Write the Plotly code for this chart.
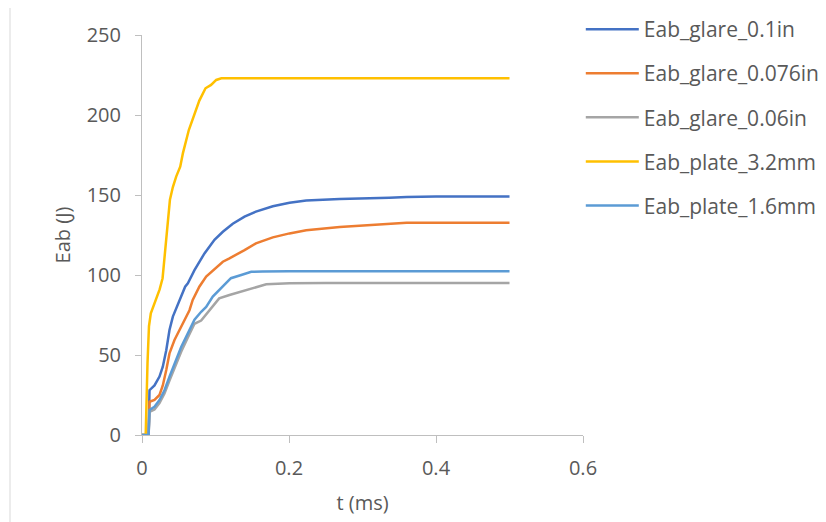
import plotly.graph_objects as go

# ---- data ----
t_glare_01 = [0, 0.009, 0.0102, 0.017, 0.0238, 0.0283, 0.033, 0.0374, 0.042, 0.051, 0.0587, 0.0624,
              0.0714, 0.085, 0.0986, 0.11, 0.1235, 0.1395, 0.155, 0.178, 0.2007, 0.2234, 0.269,
              0.3367, 0.36, 0.4, 0.5]
e_glare_01 = [0, 0, 28, 31, 36.5, 42.7, 53, 65.6, 74, 84.4, 92.7, 94.8,
              103, 113.5, 122, 127, 132, 136.5, 139.6, 143, 145.2, 146.5, 147.5,
              148.3, 148.8, 149, 149]

t_glare_0076 = [0, 0.009, 0.0102, 0.017, 0.0238, 0.0283, 0.033, 0.0374, 0.0442, 0.051, 0.0578, 0.0646,
                0.069, 0.078, 0.0873, 0.101, 0.11, 0.119, 0.128, 0.1395, 0.155, 0.178, 0.2007,
                0.2234, 0.269, 0.3367, 0.36, 0.5]
e_glare_0076 = [0, 0, 20.8, 21.9, 25, 31, 40.6, 51, 59.4, 65.6, 72, 78,
                84.4, 92.7, 99, 105, 108.3, 110.4, 112.5, 115.6, 119.8, 123.5, 126,
                128, 130, 132, 132.7, 132.7]

t_glare_006 = [0, 0.009, 0.0102, 0.017, 0.0238, 0.0306, 0.0374, 0.0442, 0.0533, 0.0624, 0.0714,
               0.0805, 0.0918, 0.105, 0.119, 0.135, 0.155, 0.169, 0.2007, 0.25, 0.5]
e_glare_006 = [0, 0, 14.5, 16, 20, 26, 34, 42, 52, 61, 69.5,
               71.5, 78, 85.4, 87.5, 89.6, 92.7, 94.2, 94.8, 95, 95]

t_plate_32 = [0, 0.005, 0.0075, 0.0095, 0.012, 0.018, 0.024, 0.028, 0.031, 0.033, 0.038, 0.042,
              0.0465, 0.052, 0.0556, 0.0637, 0.0705, 0.078, 0.0864, 0.094, 0.101, 0.108, 0.2, 0.5]
e_plate_32 = [0, 0, 45, 68, 76, 84, 91, 98, 112, 126, 147, 155,
              161.5, 167.7, 176, 190.6, 199, 209, 216.7, 218.8, 221.9, 223, 223, 223]

t_plate_16 = [0, 0.009, 0.0102, 0.017, 0.0238, 0.0306, 0.0374, 0.0442, 0.0533, 0.0624, 0.0714,
              0.0805, 0.0873, 0.0963, 0.11, 0.121, 0.135, 0.1486, 0.164, 0.2, 0.5]
e_plate_16 = [0, 0, 15.6, 17.7, 21.9, 28, 36.5, 44.8, 55, 63.5, 72,
              77, 80, 86.5, 92.7, 98, 100, 102, 102.2, 102.3, 102.3]

series_names = ["Eab_glare_0.1in", "Eab_glare_0.076in", "Eab_glare_0.06in",
                "Eab_plate_3.2mm", "Eab_plate_1.6mm"]
series_t = [t_glare_01, t_glare_0076, t_glare_006, t_plate_32, t_plate_16]
series_e = [e_glare_01, e_glare_0076, e_glare_006, e_plate_32, e_plate_16]
series_colors = ["#4472C4", "#ED7D31", "#A5A5A5", "#FFC000", "#5B9BD5"]

x_ticks = [0, 0.2, 0.4, 0.6]
x_tick_labels = ["0", "0.2", "0.4", "0.6"]
y_ticks = [0, 50, 100, 150, 200, 250]

FONT = "Open Sans"
TXT = "#595959"
AX = "#BFBFBF"

fig = go.Figure()
for name, t, e, c in zip(series_names, series_t, series_e, series_colors):
    fig.add_trace(go.Scatter(x=t, y=e, mode="lines", name=name, legendgroup=name,
                             line=dict(color=c, width=2.5)))

fig.update_layout(
    width=826, height=522,
    margin=dict(l=134, r=251, t=27, b=95, autoexpand=False),
    paper_bgcolor="white", plot_bgcolor="white",
    font=dict(family=FONT, size=20, color=TXT),
    showlegend=True,
    legend=dict(x=0.995, y=1.065, xanchor="left", yanchor="top",
                font=dict(family=FONT, size=21, color=TXT),
                tracegroupgap=13.8, itemwidth=53, bgcolor="rgba(0,0,0,0)"),
    xaxis=dict(range=[0, 0.6], tickvals=x_ticks, ticktext=x_tick_labels, automargin=False,
               showgrid=False, zeroline=False, showline=True, linecolor=AX, linewidth=1,
               ticks="outside", ticklen=7, tickcolor=AX, ticklabelstandoff=8,
               title=dict(text="t (ms)", standoff=15, font=dict(size=20, color=TXT))),
    yaxis=dict(range=[0, 250], tickvals=y_ticks, automargin=False,
               showgrid=False, zeroline=False, showline=True, linecolor=AX, linewidth=1,
               ticks="outside", ticklen=6, tickcolor=AX, ticklabelstandoff=10,
               title=dict(text="Eab (J)", standoff=10, font=dict(size=20, color=TXT))),
    shapes=[dict(type="rect", xref="paper", yref="paper",
                 x0=-0.2993, x1=1.56, y0=-0.24, y1=1.0725,
                 line=dict(color="#D9D9D9", width=1), fillcolor="rgba(0,0,0,0)", layer="below")],
)

fig.write_html("out.html")
